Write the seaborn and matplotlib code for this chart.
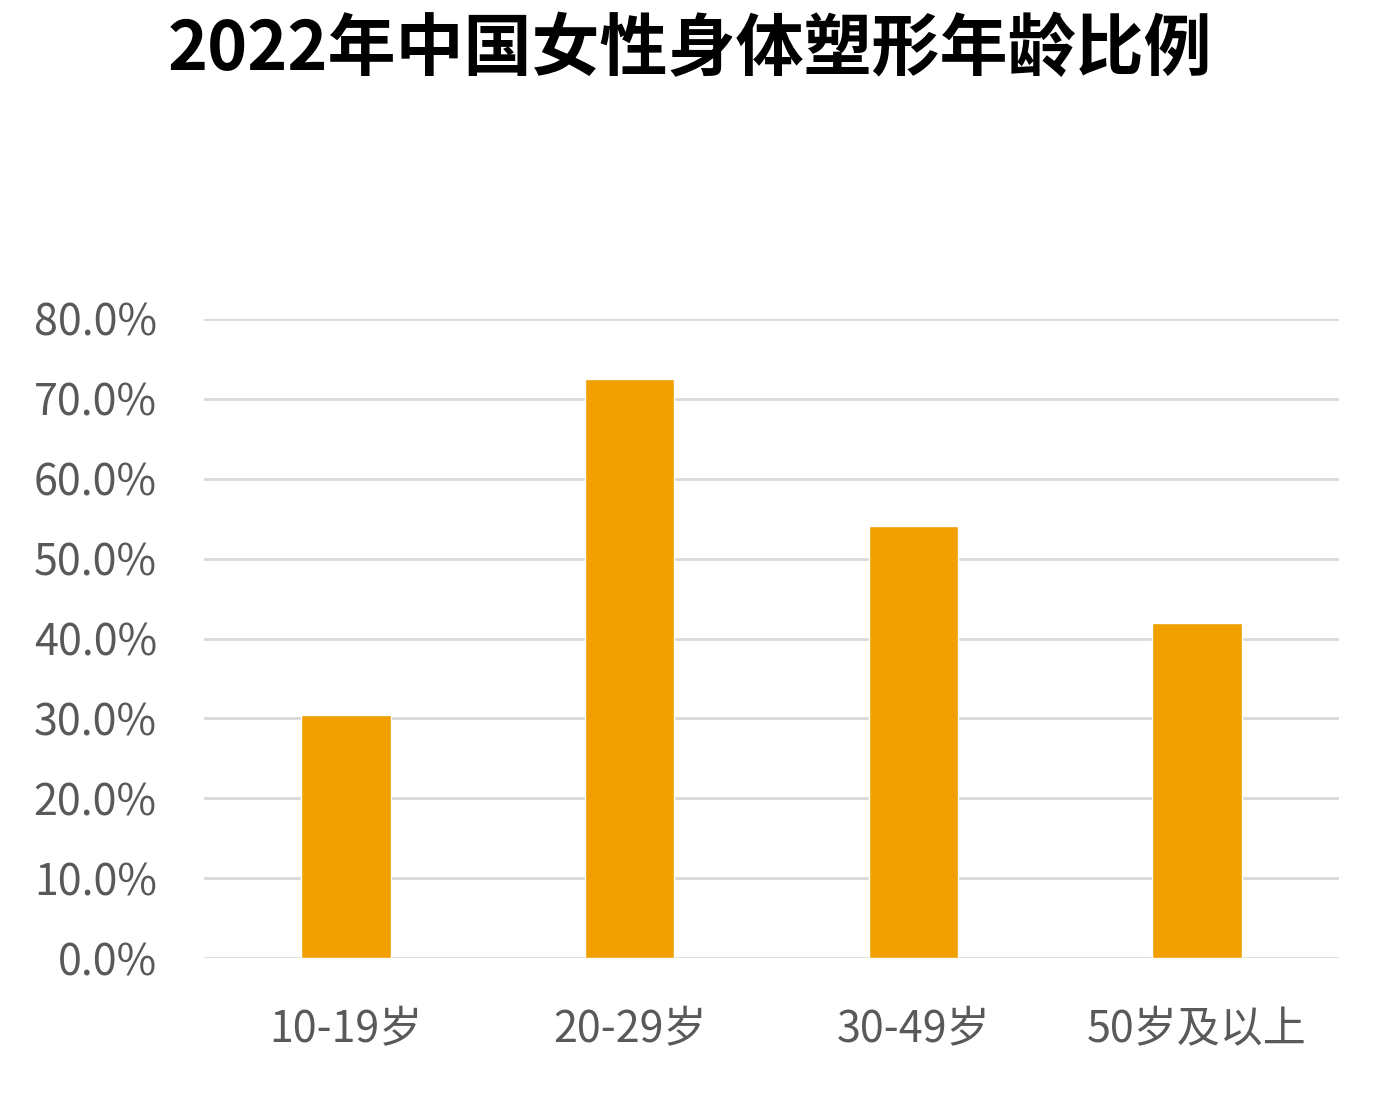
import matplotlib
matplotlib.use("Agg")
import matplotlib.pyplot as plt
import seaborn as sns
import pandas as pd
from matplotlib.ticker import FuncFormatter

categories = ["10-19岁", "20-29岁", "30-49岁", "50岁及以上"]
values = [0.304, 0.725, 0.541, 0.420]
title = "2022年中国女性身体塑形年龄比例"

sns.set_theme(style="white")
plt.rcParams['font.family'] = ['Noto Sans CJK SC', 'DejaVu Sans']

df = pd.DataFrame({"age": categories, "ratio": values})

fig = plt.figure(figsize=(13.85, 11.11), dpi=100)
ax = fig.add_axes([204/1385, 1-958/1111, (1339-204)/1385, (958-319)/1111])

sns.barplot(data=df, x="age", y="ratio", color="#F29F00", width=0.315,
            saturation=1, ax=ax, zorder=3)

ax.set_ylim(0, 0.8)
ax.set_xlim(-0.5, 3.5)
ax.set_yticks([i/10 for i in range(9)])
ax.yaxis.set_major_formatter(FuncFormatter(lambda v, p: f"{v*100:.1f}%"))
ax.grid(axis="y", color="#D9D9D9", linewidth=2, zorder=0)
ax.set_axisbelow(True)
for s in ax.spines.values():
    s.set_visible(False)
ax.set_xlabel("")
ax.set_ylabel("")
ax.tick_params(axis="y", length=0, pad=34, labelsize=31, labelcolor="#595959")
ax.tick_params(axis="x", length=0, pad=36, labelsize=31, labelcolor="#595959")
for lab in ax.get_yticklabels() + ax.get_xticklabels():
    lab.set_fontweight(300)

fig.text(690/1385, 1-50/1111, title, ha="center", va="center",
         fontsize=49, fontweight=900, color="black")

fig.savefig("out.png", dpi=100, facecolor="white")
